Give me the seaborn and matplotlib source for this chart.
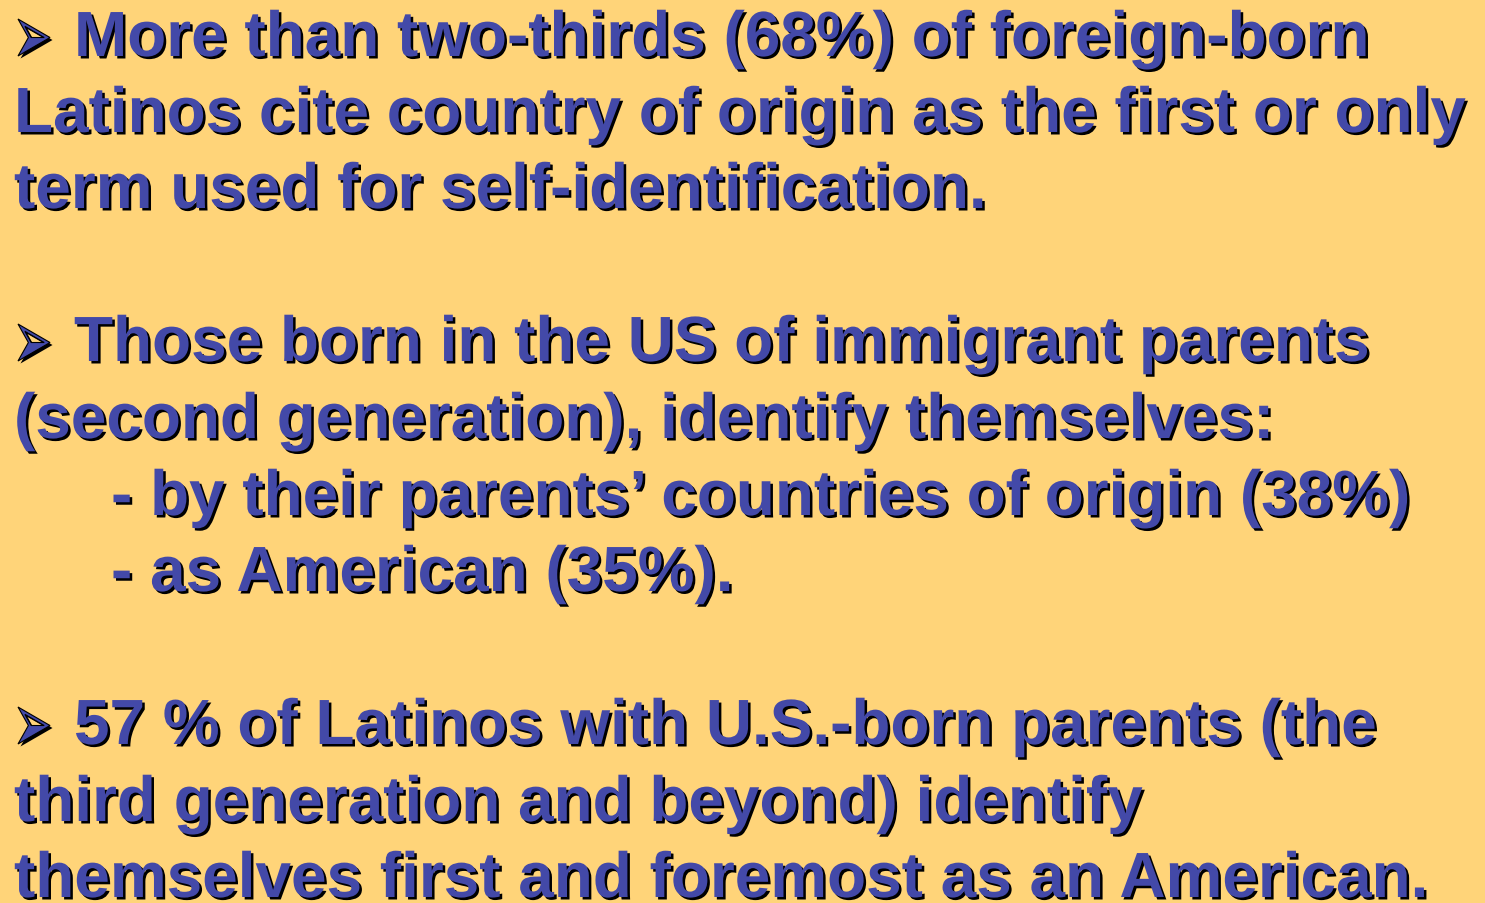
import matplotlib
matplotlib.use("Agg")
import matplotlib.pyplot as plt
import matplotlib.patheffects as pe
from matplotlib.textpath import TextPath
from matplotlib.font_manager import FontProperties
from matplotlib.patches import PathPatch
from matplotlib.transforms import Affine2D
import seaborn as sns

sns.set_theme(style="white")
plt.rcParams['font.family'] = ['Liberation Sans', 'DejaVu Sans']

# Slide content
bullet_lines = [
    "More than two-thirds (68%) of foreign-born",
    "Those born in the US of immigrant parents",
    "57 % of Latinos with U.S.-born parents (the",
]
body_lines = [
    "Latinos cite country of origin as the first or only",
    "term used for self-identification.",
    "(second generation), identify themselves:",
    "third generation and beyond) identify",
    "themselves first and foremost as an American.",
]
sub_lines = [
    "- by their parents\u2019 countries of origin (38%)",
    "- as American (35%).",
]
BULLET = "\u27a2"

BG = "#FFD479"
FG = "#4349A8"
W, H = 1485, 904
fig = plt.figure(figsize=(W / 100, H / 100), dpi=100, facecolor=BG)

FS = 46
shadow = [pe.SimplePatchShadow(offset=(1.8, -1.8), shadow_rgbFace="black", alpha=1.0), pe.Normal()]


def put(x, y, s, size=FS):
    fig.text(x / W, 1 - y / H, s, fontsize=size, fontweight="bold", color=FG,
             va="baseline", ha="left", path_effects=shadow)


# bullet glyph, stretched to the slide's arrowhead proportions
bpath = TextPath((0, 0), BULLET, size=100, prop=FontProperties(family="DejaVu Sans"))
ext = bpath.get_extents()


def put_bullet(x0, y_base, w=32, h=37):
    sx = w / ext.width
    sy = h / ext.height
    tr = (Affine2D().translate(-ext.x0, -ext.y0).scale(sx, sy)
          .translate(x0, H - y_base))
    patch = PathPatch(bpath, transform=tr, facecolor=FG, edgecolor="black",
                      linewidth=0.8, path_effects=shadow)
    fig.add_artist(patch)


bullet_y = [57, 362, 745]
for yb, s in zip(bullet_y, bullet_lines):
    put_bullet(18, yb)
    put(74, yb, s)

body_pos = [(14, 133), (14, 209), (14, 439), (14, 822), (14, 898)]
for (x, y), s in zip(body_pos, body_lines):
    put(x, y, s)

sub_pos = [(111, 516), (111, 592)]
for (x, y), s in zip(sub_pos, sub_lines):
    put(x, y, s)

fig.savefig("out.png", dpi=100, facecolor=BG)
